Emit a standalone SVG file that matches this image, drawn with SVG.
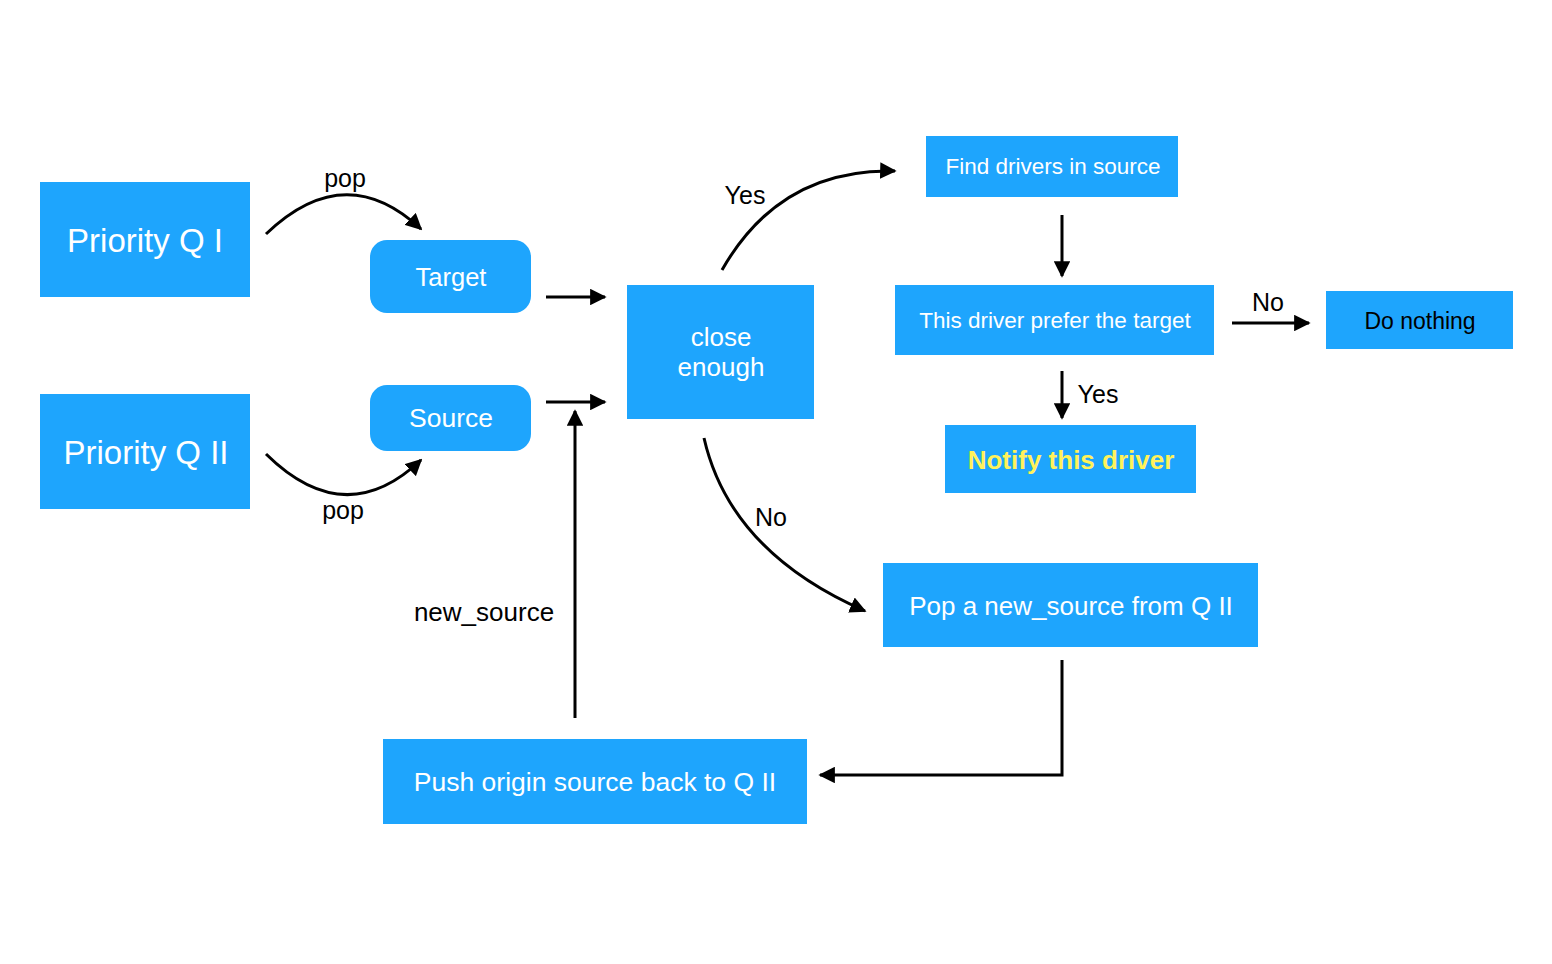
<svg xmlns="http://www.w3.org/2000/svg" width="1552" height="964" viewBox="0 0 1552 964">
<style>
.box{fill:#1ea5fd}
.t{font-family:"Liberation Sans",Arial,sans-serif;fill:#fff;text-anchor:middle;dominant-baseline:central}
.l{font-family:"Liberation Sans",Arial,sans-serif;fill:#000;text-anchor:middle;dominant-baseline:central;font-size:25px}
.c{fill:none;stroke:#000;stroke-width:3}
</style>
<defs>
<marker id="ah" viewBox="0 0 10 10" refX="9" refY="5" markerWidth="5.5" markerHeight="5.5" markerUnits="strokeWidth" orient="auto">
<path d="M0,0 L10,5 L0,10 z" fill="#000"/>
</marker>
</defs>
<rect width="1552" height="964" fill="#fff"/>
<g id="connectors">
<path class="c" d="M266,234 Q345,158 421,229" marker-end="url(#ah)"/>
<path class="c" d="M266,454 Q345,532 421,460" marker-end="url(#ah)"/>
<path class="c" d="M546,297 L605,297" marker-end="url(#ah)"/>
<path class="c" d="M546,402 L605,402" marker-end="url(#ah)"/>
<path class="c" d="M575,718 L575,411" marker-end="url(#ah)"/>
<path class="c" d="M722,270 Q780,168 895,171" marker-end="url(#ah)"/>
<path class="c" d="M704,438 Q730,552 865,611" marker-end="url(#ah)"/>
<path class="c" d="M1062,215 L1062,276" marker-end="url(#ah)"/>
<path class="c" d="M1062,371 L1062,418" marker-end="url(#ah)"/>
<path class="c" d="M1232,323 L1309,323" marker-end="url(#ah)"/>
<path class="c" d="M1062,660 L1062,775 L820,775" marker-end="url(#ah)"/>
<text class="l" x="345" y="178">pop</text>
<text class="l" x="343" y="510">pop</text>
<text class="l" x="484" y="612" style="font-size:26px">new_source</text>
<text class="l" x="745" y="195">Yes</text>
<text class="l" x="771" y="517">No</text>
<text class="l" x="1098" y="394">Yes</text>
<text class="l" x="1268" y="302">No</text>
</g>
<g id="pq1"><rect class="box" x="40" y="182" width="210" height="115"/><text class="t" x="145" y="240" font-size="33">Priority Q I</text></g>
<g id="pq2"><rect class="box" x="40" y="394" width="210" height="115"/><text class="t" x="146" y="452" font-size="33">Priority Q II</text></g>
<g id="target"><rect class="box" x="370" y="240" width="161" height="73" rx="17"/><text class="t" x="451" y="277" font-size="25.5">Target</text></g>
<g id="source"><rect class="box" x="370" y="385" width="161" height="66" rx="17"/><text class="t" x="451" y="418" font-size="26.5">Source</text></g>
<g id="close"><rect class="box" x="627" y="285" width="187" height="134"/><text class="t" x="721" y="337" font-size="26">close</text><text class="t" x="721" y="367" font-size="26">enough</text></g>
<g id="find"><rect class="box" x="926" y="136" width="252" height="61"/><text class="t" x="1053" y="166" font-size="22.5">Find drivers in source</text></g>
<g id="prefer"><rect class="box" x="895" y="285" width="319" height="70"/><text class="t" x="1055" y="320" font-size="22.5">This driver prefer the target</text></g>
<g id="nothing"><rect class="box" x="1326" y="291" width="187" height="58"/><text class="t" x="1420" y="321" font-size="23" style="fill:#000">Do nothing</text></g>
<g id="notify"><rect class="box" x="945" y="425" width="251" height="68"/><text class="t" x="1071" y="460" font-size="26" font-weight="bold" style="fill:#fff25a">Notify this driver</text></g>
<g id="pop"><rect class="box" x="883" y="563" width="375" height="84"/><text class="t" x="1071" y="606" font-size="26">Pop a new_source from Q II</text></g>
<g id="push"><rect class="box" x="383" y="739" width="424" height="85"/><text class="t" x="595" y="782" font-size="26.5">Push origin source back to Q II</text></g>
</svg>
